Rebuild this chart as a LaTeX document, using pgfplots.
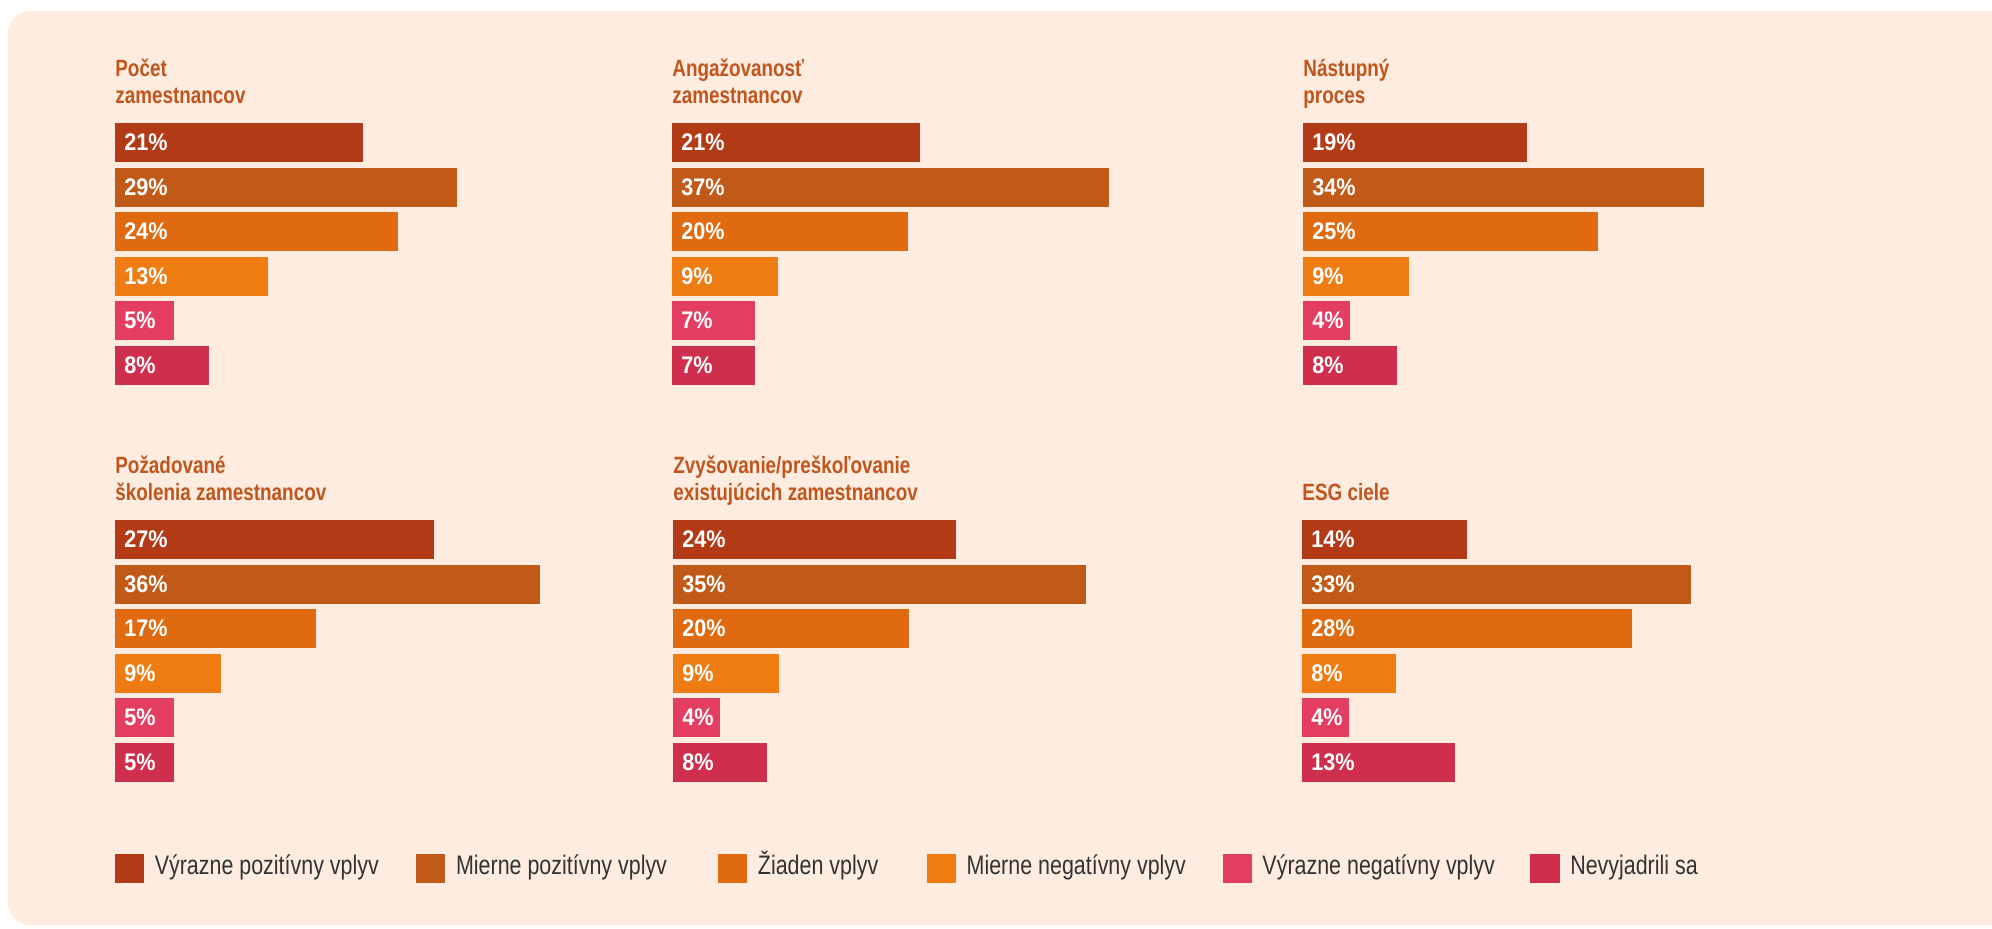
\documentclass[border=0pt]{standalone}
\usepackage{fontspec}
\setmainfont{Liberation Sans}[FakeStretch=0.8]
\newfontfamily\lblfont{Liberation Sans}[FakeStretch=0.9]
\usepackage{pgfplots}
\pgfplotsset{compat=1.18}
\definecolor{c1}{RGB}{179,58,23}
\definecolor{c2}{RGB}{193,90,24}
\definecolor{c3}{RGB}{224,106,15}
\definecolor{c4}{RGB}{238,124,19}
\definecolor{c5}{RGB}{228,61,98}
\definecolor{c6}{RGB}{207,47,77}
\definecolor{bgc}{RGB}{253,236,223}
\definecolor{titlec}{RGB}{192,86,29}
\definecolor{legtext}{RGB}{51,51,51}
\newcommand\ttl{\fontsize{11.8pt}{13.5pt}\selectfont\bfseries\color{titlec}}
\newcommand\legfont{\fontsize{13.4pt}{14pt}\selectfont}
\pgfplotsset{
  panel/.style={
    anchor=north west, scale only axis, width=236pt, height=133.5pt,
    xmin=0, xmax=40, ymin=-0.5, ymax=5.5, y dir=reverse, hide axis,
    xbar, bar width=19.5pt, bar shift=0pt, clip=false,
    every axis plot/.append style={draw=none},
    nodes near coords align={horizontal},
    every node near coord/.style={anchor=west, xshift=4.5pt, inner sep=0pt,
      text=white, font=\lblfont\bfseries\fontsize{12pt}{12pt}\selectfont},
  },
  sq/.style={legend image code/.code={\fill[#1] (0pt,-7pt) rectangle (14pt,7pt); \path (19.5pt,0pt);}},
}
\newcommand{\panel}[8]{%
\begin{axis}[panel, at={(#1,#2)}]
\addplot[fill=c1] coordinates {(#3,0)};
\addplot[fill=c2] coordinates {(#4,1)};
\addplot[fill=c3] coordinates {(#5,2)};
\addplot[fill=c4] coordinates {(#6,3)};
\addplot[fill=c5] coordinates {(#7,4)};
\addplot[fill=c6] coordinates {(#8,5)};
\addplot[fill=none, nodes near coords={\pgfplotspointmeta\%}, point meta=explicit symbolic]
  coordinates {(0,0)[#3] (0,1)[#4] (0,2)[#5] (0,3)[#6] (0,4)[#7] (0,5)[#8]};
\end{axis}}
\begin{document}
\begin{tikzpicture}
\useasboundingbox (0,0) rectangle (996pt,-464pt);
\fill[white] (0,0) rectangle (996pt,-464pt);
\begin{scope}
\clip (0,0) rectangle (996pt,-464pt);
\fill[bgc, rounded corners=11pt] (4pt,-5.5pt) rectangle (1012pt,-462.5pt);
\end{scope}
% titles
\node[anchor=base west, inner sep=0pt, font=\ttl] at (57.5pt,-38pt) {Počet};
\node[anchor=base west, inner sep=0pt, font=\ttl] at (57.5pt,-51.5pt) {zamestnancov};
\node[anchor=base west, inner sep=0pt, font=\ttl] at (336pt,-38pt) {Angažovanosť};
\node[anchor=base west, inner sep=0pt, font=\ttl] at (336pt,-51.5pt) {zamestnancov};
\node[anchor=base west, inner sep=0pt, font=\ttl] at (651.5pt,-38pt) {Nástupný};
\node[anchor=base west, inner sep=0pt, font=\ttl] at (651.5pt,-51.5pt) {proces};
\node[anchor=base west, inner sep=0pt, font=\ttl] at (57.5pt,-236.5pt) {Požadované};
\node[anchor=base west, inner sep=0pt, font=\ttl] at (57.5pt,-250pt) {školenia zamestnancov};
\node[anchor=base west, inner sep=0pt, font=\ttl] at (336.5pt,-236.5pt) {Zvyšovanie/preškoľovanie};
\node[anchor=base west, inner sep=0pt, font=\ttl] at (336.5pt,-250pt) {existujúcich zamestnancov};
\node[anchor=base west, inner sep=0pt, font=\ttl] at (651pt,-250pt) {ESG ciele};
% panels
\panel{57.5pt}{-60.125pt}{21}{29}{24}{13}{5}{8}
\panel{336pt}{-60.125pt}{21}{37}{20}{9}{7}{7}
\panel{651.5pt}{-60.125pt}{19}{34}{25}{9}{4}{8}
\panel{57.5pt}{-258.625pt}{27}{36}{17}{9}{5}{5}
\panel{336.5pt}{-258.625pt}{24}{35}{20}{9}{4}{8}
\panel{651pt}{-258.625pt}{14}{33}{28}{8}{4}{13}
% legend
\begin{axis}[at={(57.5pt,-434.25pt)}, anchor=south west, scale only axis,
  width=10pt, height=10pt, hide axis, xmin=0, xmax=1, ymin=0, ymax=1,
  legend columns=6,
  legend style={at={(axis description cs:0,0)}, anchor=west, draw=none, fill=none,
    inner sep=0pt, outer sep=0pt, font=\legfont, text=legtext,
    nodes={inner sep=0pt, text height=7.6pt, text depth=1.8pt}},
  legend cell align=left]
\addlegendimage{sq=c1}\addlegendentry{\makebox[130.75pt][l]{Výrazne pozitívny vplyv}}
\addlegendimage{sq=c2}\addlegendentry{\makebox[131pt][l]{Mierne pozitívny vplyv}}
\addlegendimage{sq=c3}\addlegendentry{\makebox[84.5pt][l]{Žiaden vplyv}}
\addlegendimage{sq=c4}\addlegendentry{\makebox[128pt][l]{Mierne negatívny vplyv}}
\addlegendimage{sq=c5}\addlegendentry{\makebox[134pt][l]{Výrazne negatívny vplyv}}
\addlegendimage{sq=c6}\addlegendentry{Nevyjadrili sa}
\end{axis}
\end{tikzpicture}
\end{document}
